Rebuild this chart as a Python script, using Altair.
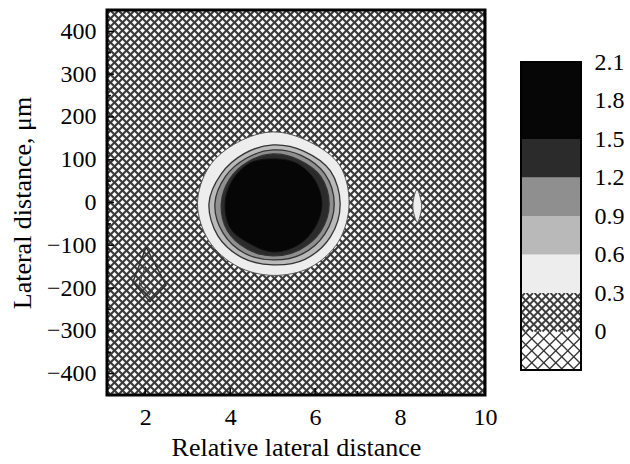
import altair as alt
import pandas as pd

# ---------------- data ----------------
x_domain = [1.1, 10.0]
y_domain = [-450.0, 450.0]
x_labels = [2, 4, 6, 8, 10]
x_minor = [3, 5, 7, 9]
y_labels = [-400, -300, -200, -100, 0, 100, 200, 300, 400]
y_minor = [-350, -250, -150, -50, 50, 150, 250, 350]

levels = [0.3, 0.6, 0.9, 1.2, 1.5]
level_fill = ["#ededed", "#b9b9b9", "#8f8f8f", "#2b2b2b", "#060606"]

# contour boundaries (relative lateral distance, um)
c03_x = [6.80, 6.58, 5.86, 5.01, 4.17, 3.50, 3.23, 3.50, 4.16, 5.01, 5.88, 6.55]
c03_y = [-3.3, 86.7, 142.4, 165.0, 140.4, 83.2, -3.3, -89.8, -149.0, -170.4, -152.1, -91.5]
c06_x = [6.59, 6.36, 5.73, 5.01, 4.33, 3.79, 3.50, 3.71, 4.28, 5.01, 5.76, 6.36]
c06_y = [-3.3, 73.8, 120.2, 134.6, 114.1, 66.8, -3.3, -78.1, -128.8, -145.9, -132.8, -80.4]
c09_x = [6.45, 6.23, 5.67, 5.01, 4.39, 3.89, 3.64, 3.83, 4.34, 5.01, 5.69, 6.23]
c09_y = [-3.3, 66.8, 110.1, 122.9, 104.0, 61.0, -3.3, -71.1, -118.7, -134.2, -120.7, -73.4]
c12_x = [6.33, 6.13, 5.61, 5.01, 4.43, 3.99, 3.79, 3.93, 4.40, 5.01, 5.63, 6.13]
c12_y = [-3.3, 61.0, 99.9, 113.6, 95.9, 55.1, -3.3, -65.2, -108.6, -124.9, -110.6, -67.6]
c15_x = [6.16, 5.99, 5.56, 5.01, 4.46, 4.05, 3.88, 4.01, 4.47, 5.01, 5.58, 5.99]
c15_y = [-3.3, 52.8, 91.8, 101.9, 91.8, 51.6, -3.3, -60.6, -96.4, -115.5, -100.5, -59.4]

# small island (0.3-0.6) near x=8.4
isl_x = [8.40, 8.46, 8.51, 8.47, 8.41, 8.34, 8.30, 8.34]
isl_y = [30, 18, -8, -32, -46, -32, -8, 18]

# small region below 0 near x=2
neg_x = [2.02, 1.71, 2.11, 2.49]
neg_y = [-104, -186, -232, -193]
neg2_x = [2.00, 1.86, 2.10, 2.30]
neg2_y = [-150, -190, -215, -186]

# colour bar
cb_labels = [0, 0.3, 0.6, 0.9, 1.2, 1.5, 1.8, 2.1]
cb_lo, cb_hi = -0.3, 2.1
band_lo = [0.3, 0.6, 0.9, 1.2, 1.5]
band_hi = [0.6, 0.9, 1.2, 1.5, 2.1]

# ---------------- layout / style ----------------
PLOT_W, PLOT_H = 378, 385
CB_W, CB_H = 60, 385
CB_TOP, CB_BAR_H = 52, 308
FONT = "Liberation Serif"
FS = 24
TFS = 26
HATCH_D = 8
HATCH_COARSE_D = 12


def hatch(W, H, d):
    segs = []
    n = int((W + H) / d) + 2
    for i in range(n + 1):
        k = -H + i * d + d / 2
        y0, y1 = max(0, -k), min(H, W - k)
        if y1 > y0:
            segs.append((y0 + k, y0, y1 + k, y1))
        k2 = i * d + d / 2
        y0, y1 = max(0, k2 - W), min(H, k2)
        if y1 > y0:
            segs.append((k2 - y0, y0, k2 - y1, y1))
    return segs


# main plot hatch (fine) in data units
xr = x_domain[1] - x_domain[0]
yr = y_domain[1] - y_domain[0]
hm = hatch(PLOT_W, PLOT_H, HATCH_D)
hatch_main_df = pd.DataFrame({
    "x": [x_domain[0] + s[0] / PLOT_W * xr for s in hm],
    "y": [y_domain[0] + s[1] / PLOT_H * yr for s in hm],
    "x2": [x_domain[0] + s[2] / PLOT_W * xr for s in hm],
    "y2": [y_domain[0] + s[3] / PLOT_H * yr for s in hm],
})

xs = alt.Scale(domain=x_domain, nice=False, zero=False)
ys = alt.Scale(domain=y_domain, nice=False, zero=False)

x_axis = alt.Axis(values=x_labels, title="Relative lateral distance", grid=False,
                  domain=False, ticks=False, tickSize=0, labelFlush=False,
                  labelOverlap=False, labelFont=FONT, labelFontSize=FS,
                  labelColor="black", labelPadding=10, titleFont=FONT,
                  titleFontSize=TFS, titleFontWeight="normal", titleColor="black",
                  titlePadding=5)
y_axis = alt.Axis(values=y_labels, title="Lateral distance, μm", grid=False,
                  domain=False, ticks=False, tickSize=0, labelFlush=False,
                  labelOverlap=False, labelFont=FONT, labelFontSize=FS,
                  labelColor="black", labelPadding=11, titleFont=FONT,
                  titleFontSize=TFS, titleFontWeight="normal", titleColor="black",
                  titlePadding=11)


def X(f="x"):
    return alt.X(f"{f}:Q", scale=xs, axis=x_axis)


def Y(f="y"):
    return alt.Y(f"{f}:Q", scale=ys, axis=y_axis)


hatch_main = alt.Chart(hatch_main_df).mark_rule(
    stroke="#3a3a3a", strokeWidth=2.1, clip=True
).encode(x=X(), y=Y(), x2="x2:Q", y2="y2:Q")


def poly(xv, yv, fill, stroke, sw, interp="cardinal-closed"):
    df = pd.DataFrame({"x": xv, "y": yv, "i": list(range(len(xv)))})
    kw = dict(interpolate=interp, stroke=stroke, strokeWidth=sw)
    if fill:
        kw["fill"] = fill
    return alt.Chart(df).mark_line(**kw).encode(x=X(), y=Y(), order="i:Q")


contours = [
    poly(c03_x, c03_y, level_fill[0], "#555555", 1.0),
    poly(c06_x, c06_y, level_fill[1], "#333333", 1.3),
    poly(c09_x, c09_y, level_fill[2], "#333333", 1.3),
    poly(c12_x, c12_y, level_fill[3], "#333333", 1.3),
    poly(c15_x, c15_y, level_fill[4], "#111111", 1.0),
    poly(isl_x, isl_y, level_fill[0], "#555555", 1.0),
    poly(neg_x, neg_y, None, "#333333", 1.5, "linear-closed"),
    poly(neg2_x, neg2_y, None, "#444444", 1.2, "linear-closed"),
]

xt_major = alt.Chart(pd.DataFrame({"v": x_labels})).mark_rule(stroke="black", strokeWidth=1.5).encode(
    x=alt.X("v:Q", scale=xs, axis=x_axis), y=alt.value(PLOT_H), y2=alt.value(PLOT_H - 7))
xt_minor = alt.Chart(pd.DataFrame({"v": x_minor})).mark_rule(stroke="black", strokeWidth=1.5).encode(
    x=alt.X("v:Q", scale=xs, axis=x_axis), y=alt.value(PLOT_H), y2=alt.value(PLOT_H - 4))
yt_major = alt.Chart(pd.DataFrame({"v": y_labels})).mark_rule(stroke="black", strokeWidth=1.5).encode(
    y=alt.Y("v:Q", scale=ys, axis=y_axis), x=alt.value(0), x2=alt.value(7))
yt_minor = alt.Chart(pd.DataFrame({"v": y_minor})).mark_rule(stroke="black", strokeWidth=1.5).encode(
    y=alt.Y("v:Q", scale=ys, axis=y_axis), x=alt.value(0), x2=alt.value(4))

frame = alt.Chart(pd.DataFrame({"a": [0]})).mark_rect(
    fill="transparent", stroke="black", strokeWidth=3
).encode(x=alt.value(0), x2=alt.value(PLOT_W), y=alt.value(0), y2=alt.value(PLOT_H))

main = alt.layer(hatch_main, *contours, xt_major, xt_minor, yt_major, yt_minor, frame).properties(
    width=PLOT_W, height=PLOT_H)

# ---------------- colour bar ----------------
k = CB_BAR_H / (cb_hi - cb_lo)
cb_dom_hi = cb_hi + CB_TOP / k
cb_dom_lo = cb_dom_hi - CB_H / k
cbx = alt.Scale(domain=[0, 1], nice=False, zero=False)
cby = alt.Scale(domain=[cb_dom_lo, cb_dom_hi], nice=False, zero=False)
cb_axis = alt.Axis(orient="right", values=cb_labels, format="~g", title=None,
                   grid=False, domain=False, ticks=False, tickSize=0,
                   labelFlush=False, labelOverlap=False, labelFont=FONT,
                   labelFontSize=FS, labelColor="black", labelPadding=13)


def cb_hatch(lo, hi, d):
    H = (hi - lo) * k
    hs = hatch(CB_W, H, d)
    return pd.DataFrame({
        "x": [s[0] / CB_W for s in hs],
        "y": [lo + s[1] / k for s in hs],
        "x2": [s[2] / CB_W for s in hs],
        "y2": [lo + s[3] / k for s in hs],
    })


def CBX():
    return alt.X("x:Q", scale=cbx, axis=None)


def CBY(f="y"):
    return alt.Y(f"{f}:Q", scale=cby, axis=cb_axis)


cb_fine = alt.Chart(cb_hatch(0.0, 0.3, HATCH_D)).mark_rule(stroke="#3c3c3c", strokeWidth=1.8).encode(
    x=CBX(), y=CBY(), x2="x2:Q", y2="y2:Q")
cb_coarse = alt.Chart(cb_hatch(-0.3, 0.0, HATCH_COARSE_D)).mark_rule(stroke="#333333", strokeWidth=1.2).encode(
    x=CBX(), y=CBY(), x2="x2:Q", y2="y2:Q")
cb_bands = alt.Chart(pd.DataFrame({"lo": band_lo, "hi": band_hi, "c": level_fill})).mark_rect().encode(
    y=CBY("hi"), y2="lo:Q", x=alt.value(0), x2=alt.value(CB_W), fill=alt.Fill("c:N", scale=None))
cb_frame = alt.Chart(pd.DataFrame({"lo": [cb_lo], "hi": [cb_hi]})).mark_rect(
    fill="transparent", stroke="black", strokeWidth=2).encode(
    y=CBY("hi"), y2="lo:Q", x=alt.value(0), x2=alt.value(CB_W))

cbar = alt.layer(cb_fine, cb_coarse, cb_bands, cb_frame).properties(width=CB_W, height=CB_H)

chart = alt.hconcat(main, cbar, spacing=23).configure_view(strokeWidth=0).properties(
    padding={"left": 9, "top": 8, "right": 0, "bottom": 0}, background="white")

chart.save("out.html", embed_options={"renderer": "svg", "actions": False})
